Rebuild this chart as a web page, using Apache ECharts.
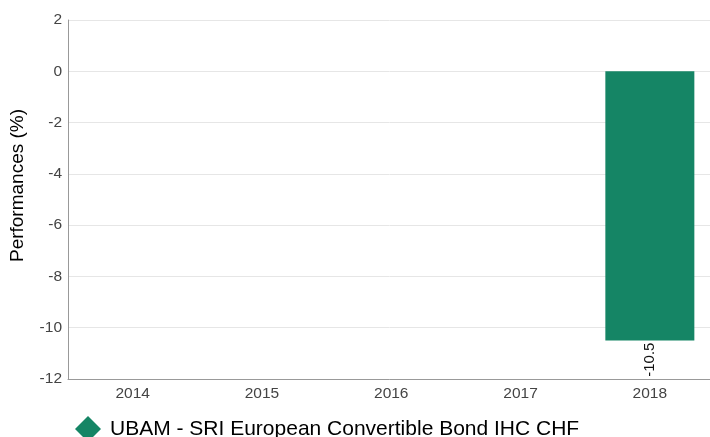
<!DOCTYPE html>
<html><head><meta charset="utf-8">
<script src="https://cdn.jsdelivr.net/npm/echarts@6/dist/echarts.min.js"></script>
<style>html,body{margin:0;padding:0;background:#fff}#c{width:710px;height:437px}</style>
</head><body><div id="c"></div>
<script>
var categories = ['2014', '2015', '2016', '2017', '2018'];
var seriesName = 'UBAM - SRI European Convertible Bond IHC CHF';
var values = [null, null, null, null, -10.5];
var yMin = -12, yMax = 2, yStep = 2;

var chart = echarts.init(document.getElementById('c'), null, {renderer: 'canvas'});
chart.setOption({
  animation: false,
  textStyle: {fontFamily: 'Liberation Sans, Arial, sans-serif'},
  grid: {left: 68, top: 20, right: -4.5, height: 359, containLabel: false, outerBoundsMode: 'none'},
  legend: {
    data: [{name: seriesName, icon: 'diamond'}],
    left: 75, top: 416, padding: 0, itemWidth: 26, itemHeight: 26, itemGap: 10,
    textStyle: {fontSize: 21, color: '#000', padding: [3, 0, 0, 4]}
  },
  xAxis: {
    type: 'category', data: categories,
    axisLine: {onZero: false, lineStyle: {color: '#999'}},
    axisTick: {show: false},
    axisLabel: {color: '#444', fontSize: 15.5, margin: 7},
    splitLine: {show: false}
  },
  yAxis: {
    type: 'value', min: yMin, max: yMax, interval: yStep,
    name: 'Performances (%)', nameLocation: 'middle', nameGap: 41, nameRotate: 90,
    nameTextStyle: {fontSize: 19, color: '#000', padding: [0, 0, 0, 28]},
    axisLine: {show: true, lineStyle: {color: '#999'}},
    axisTick: {show: false},
    axisLabel: {color: '#444', fontSize: 15.5, margin: 6},
    splitLine: {lineStyle: {color: '#e6e6e6'}}
  },
  series: [{
    name: seriesName, type: 'bar', data: values, barWidth: 89,
    itemStyle: {color: '#158565'},
    label: {show: true, position: 'outside', distance: 2, rotate: 90, align: 'right', verticalAlign: 'middle', fontSize: 15, color: '#111'}
  }]
});
</script></body></html>
